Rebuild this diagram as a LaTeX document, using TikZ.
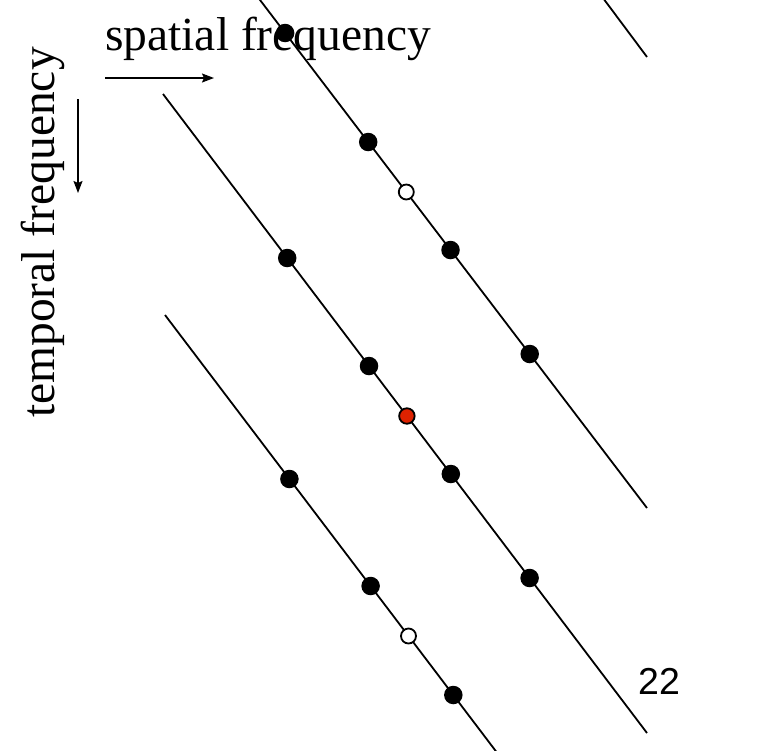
\documentclass[tikz,border=0pt]{standalone}
\usepackage{fontspec}
\setmainfont{Liberation Serif}
\newfontfamily\numfont{Liberation Sans}
\usetikzlibrary{arrows.meta}
\definecolor{dotred}{RGB}{221,34,0}
\begin{document}
\begin{tikzpicture}[x=1pt,y=-1pt,
  lattice/.style={line width=1.8pt,black},
  fulldot/.style={circle,fill=black,inner sep=0pt,minimum size=18.5pt},
  opendot/.style={circle,draw=black,fill=white,line width=1.8pt,inner sep=0pt,minimum size=15pt},
  reddot/.style={circle,draw=black,fill=dotred,line width=1.8pt,inner sep=0pt,minimum size=15.5pt},
  axisarrow/.style={line width=1.5pt,-{Stealth[length=12pt,width=9pt,inset=2pt]}},
  label/.style={inner sep=0pt,font=\fontsize{47.5}{57}\selectfont}]
\useasboundingbox (0,0) rectangle (759,750);

% line end points
\coordinate (a1) at (603,-2);
\coordinate (a2) at (647,57);
\coordinate (b1) at (258.5,-2);
\coordinate (b2) at (647,508);
\coordinate (c1) at (163,94);
\coordinate (c2) at (647,733);
\coordinate (d1) at (165,315);
\coordinate (d2) at (496.5,752);

\draw[lattice] (a1) -- (a2);
\draw[lattice] (b1) -- (b2);
\draw[lattice] (c1) -- (c2);
\draw[lattice] (d1) -- (d2);

% dots on line B
\node[fulldot] (b3) at (285.1,33) {};
\node[fulldot] (b4) at (368.2,142) {};
\node[opendot] (b5) at (406.3,192) {};
\node[fulldot] (b6) at (450.5,250) {};
\node[fulldot] (b7) at (529.7,354) {};

% dots on line C
\node[fulldot] (c3) at (287.2,258) {};
\node[fulldot] (c4) at (369,366) {};
\node[reddot] (c5) at (406.9,416) {};
\node[fulldot] (c6) at (450.8,474) {};
\node[fulldot] (c7) at (529.6,578) {};

% dots on line D
\node[fulldot] (d3) at (289.4,479) {};
\node[fulldot] (d4) at (370.6,586) {};
\node[opendot] (d5) at (408.5,636) {};
\node[fulldot] (d6) at (453.3,695) {};

% axis labels
\node[label,anchor=base west] (spat) at (105,50) {spatial frequency};
\node[label,anchor=base west,rotate=90] (temp) at (54,418) {temporal frequency};

\coordinate (sx1) at (105,78);
\coordinate (sx2) at (214,78);
\coordinate (tx1) at (78,99);
\coordinate (tx2) at (78,193);
\draw[axisarrow] (sx1) -- (sx2);
\draw[axisarrow] (tx1) -- (tx2);

% page number
\node[inner sep=0pt,anchor=base west,font=\numfont\fontsize{37.5}{45}\selectfont] (pg) at (638,694) {22};
\end{tikzpicture}
\end{document}
